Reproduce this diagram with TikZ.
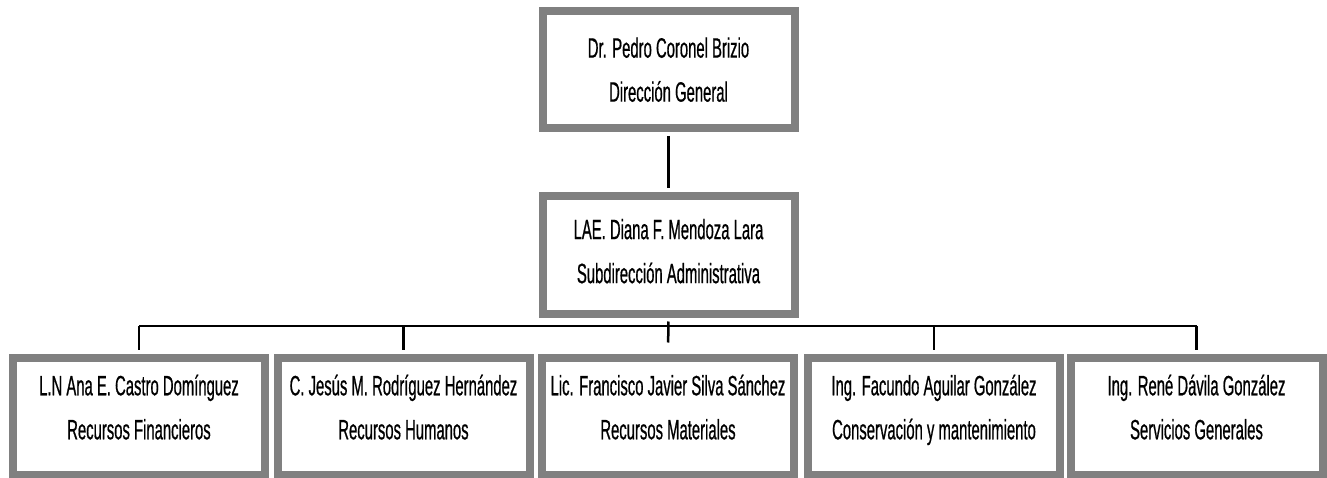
\documentclass[tikz,border=0pt]{standalone}
\usepackage{fontspec}
\setmainfont[FakeStretch=0.53,FakeBold=0.6]{Liberation Sans}
\definecolor{boxgray}{HTML}{808080}
\begin{document}
\begin{tikzpicture}[x=1pt,y=-1pt,
  orgbox/.style={draw=boxgray, line width=8pt, fill=white, minimum width=252pt,
    minimum height=117pt, inner sep=0pt, align=center, text depth=0pt,
    font=\fontsize{28}{44}\selectfont},
  lowbox/.style={orgbox, text depth=18pt},
  link/.style={draw=black, line width=2.5pt}]
\useasboundingbox (0,0) rectangle (1327,478);
\node[orgbox] (top) at (668.5,69.5) {Dr. Pedro Coronel Brizio\\Dirección General};
\node[orgbox, text depth=8pt] (mid) at (668.5,255) {LAE. Diana F. Mendoza Lara\\Subdirección Administrativa};
\node[lowbox] (b1) at (139,416) {L.N Ana E. Castro Domínguez\\Recursos Financieros};
\node[lowbox] (b2) at (403.5,416) {C. Jesús M. Rodríguez Hernández\\Recursos Humanos};
\node[lowbox] (b3) at (668,416) {Lic. Francisco Javier Silva Sánchez\\Recursos Materiales};
\node[lowbox] (b4) at (934,416) {Ing. Facundo Aguilar González\\Conservación y mantenimiento};
\node[lowbox] (b5) at (1196.5,416) {Ing. René Dávila González\\Servicios Generales};
\coordinate (bar) at (0,326);
\draw[link, shorten <=4pt, shorten >=4pt] (top.south) -- (mid.north);
\draw[link, shorten <=4pt, shorten >=11pt] (mid.south) -- (b3.north);
\draw[link] (b1.north|-bar) -- (b5.north|-bar);
\foreach \b in {b1,b2,b4,b5}
  \draw[link, shorten >=4pt] (\b.north|-bar) -- (\b.north);
\end{tikzpicture}
\end{document}
